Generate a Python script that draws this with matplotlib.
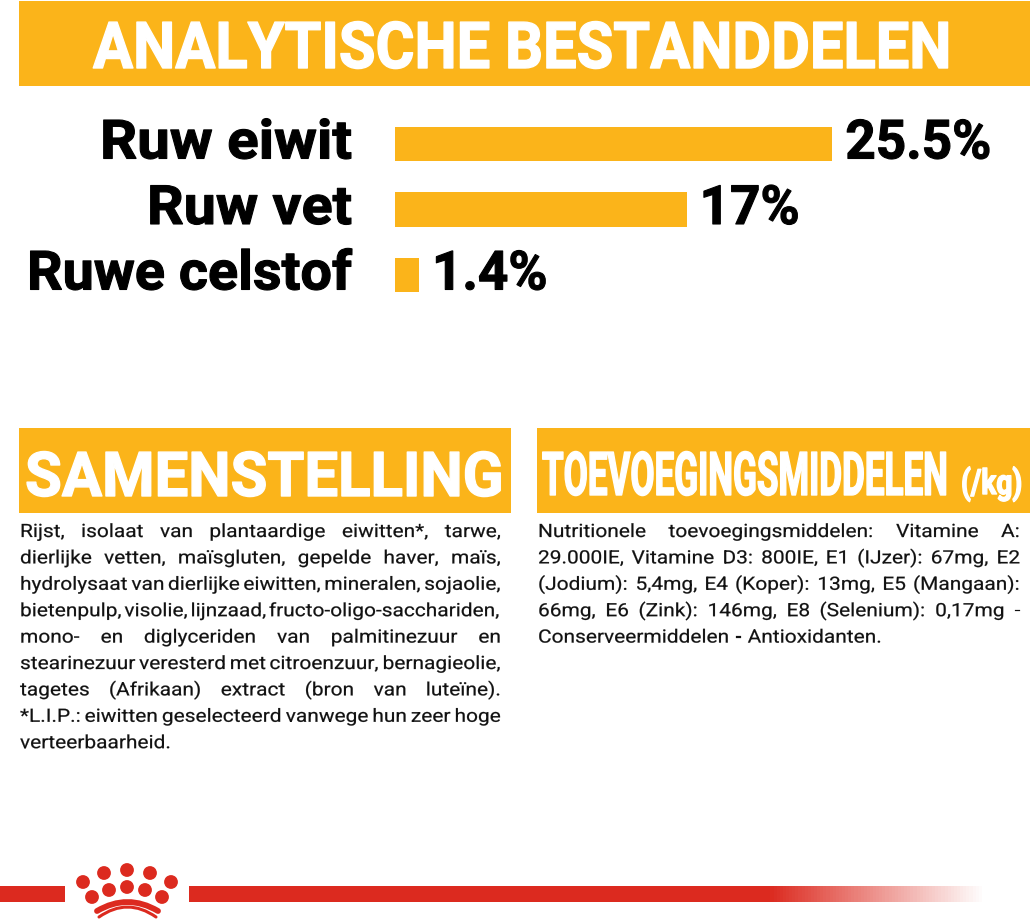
import matplotlib
matplotlib.use('Agg')
import matplotlib.pyplot as plt
from matplotlib.patches import Circle, PathPatch, Rectangle
from matplotlib.patheffects import AbstractPathEffect
from matplotlib.path import Path
from matplotlib.transforms import Affine2D
from matplotlib.colors import LinearSegmentedColormap
import numpy as np

YELLOW = '#fbb41a'
RED = '#dc2a1f'
W, H = 1030, 919

title = 'ANALYTISCHE BESTANDDELEN'
categories = ['Ruw eiwit', 'Ruw vet', 'Ruwe celstof']
values = [25.5, 17, 1.4]
value_labels = ['25.5%', '17%', '1.4%']

head_left = 'SAMENSTELLING'
head_right = 'TOEVOEGINGSMIDDELEN'
head_unit = '(/kg)'

left_lines = [
    'Rijst, isolaat van plantaardige eiwitten*, tarwe,',
    'dierlijke vetten, maïsgluten, gepelde haver, maïs,',
    'hydrolysaat van dierlijke eiwitten, mineralen, sojaolie,',
    'bietenpulp, visolie, lijnzaad, fructo-oligo-sacchariden,',
    'mono- en diglyceriden van palmitinezuur en',
    'stearinezuur veresterd met citroenzuur, bernagieolie,',
    'tagetes (Afrikaan) extract (bron van luteïne).',
    '*L.I.P.: eiwitten geselecteerd vanwege hun zeer hoge',
    'verteerbaarheid.',
]
right_lines = [
    'Nutritionele toevoegingsmiddelen: Vitamine A:',
    '29.000IE, Vitamine D3: 800IE, E1 (IJzer): 67mg, E2',
    '(Jodium): 5,4mg, E4 (Koper): 13mg, E5 (Mangaan):',
    '66mg, E6 (Zink): 146mg, E8 (Selenium): 0,17mg -',
    'Conserveermiddelen - Antioxidanten.',
]

# drawn widths of the category labels, px
LABEL_PX = [252, 205, 325]


class Stretch(AbstractPathEffect):
    # scale glyphs around their baseline start, optional outline for extra weight
    def __init__(self, sx=1.0, sy=1.0, stroke=0.0):
        super().__init__()
        self.sx = sx
        self.sy = sy
        self.stroke = stroke

    def draw_path(self, renderer, gc, tpath, affine, rgbFace=None):
        gc0 = renderer.new_gc()
        gc0.copy_properties(gc)
        gc0.set_linewidth(self.stroke)
        if self.stroke > 0:
            gc0.set_foreground(rgbFace)
            gc0.set_joinstyle('round')
        renderer.draw_path(gc0, tpath, Affine2D().scale(self.sx, self.sy) + affine, rgbFace)
        gc0.restore()


fig = plt.figure(figsize=(W / 100, H / 100), dpi=100, facecolor='white')
bg = fig.add_axes([0, 0, 1, 1])
bg.set_xlim(0, W)
bg.set_ylim(H, 0)
bg.axis('off')
renderer = fig.canvas.get_renderer()


def px_width(t):
    return t.get_window_extent(renderer).width


def fit_text(x0, x1, y, s, size, stroke=1.0, color='white'):
    # font size set so the width is x0..x1, then stretched up to the wanted height
    t = bg.text(x0, y, s, family='Roboto', weight='bold', color=color,
                fontsize=size, ha='left', va='baseline')
    k = (x1 - x0) / px_width(t)
    t.set_fontsize(size * k)
    t.set_path_effects([Stretch(1.0, 1 / k, stroke)])
    return t


def justified(x0, x1, y, line, size, sx, last=False):
    words = line.split(' ')
    items = [bg.text(x0, y, w, family='Roboto', fontsize=size,
                     color='#111111', ha='left', va='baseline') for w in words]
    widths = [px_width(t) * sx for t in items]
    gap = 6 if last or len(words) == 1 else (x1 - x0 - sum(widths)) / (len(words) - 1)
    x = x0
    for t, wd in zip(items, widths):
        t.set_x(x)
        t.set_path_effects([Stretch(sx, 1.0, 0.15)])
        x += wd + gap


# banners
bg.add_patch(Rectangle((19, 1), W - 19, 85, color=YELLOW, lw=0))
bg.add_patch(Rectangle((19, 428), 492, 85, color=YELLOW, lw=0))
bg.add_patch(Rectangle((537, 428), W - 537, 85, color=YELLOW, lw=0))
fit_text(93, 952, 68, title, 46.5)
fit_text(25, 503, 496, head_left, 44.5)
fit_text(542, 948, 495, head_right, 43.5)
fit_text(961, 1022, 494, head_unit, 25)

# bar chart, 17.15 px per percent, rows 65.5 px apart
bar_ax = fig.add_axes([395 / W, 1 - 320 / H, 600 / W, 220 / H])
bar_ax.set_xlim(0, 600 / 17.15)
bar_ax.set_ylim((320 - 144) / 65.5, (100 - 144) / 65.5)
bar_ax.axis('off')
ypos = np.arange(len(values))
bar_ax.barh(ypos, values, height=0.527, color=YELLOW)
for y, v, lab, cat, lab_px in zip(ypos, values, value_labels, categories, LABEL_PX):
    t = bar_ax.annotate(lab, (v, y), xytext=(13, 0), textcoords='offset pixels',
                        family='Roboto', weight='bold', fontsize=39, color='black',
                        ha='left', va='center')
    t.set_path_effects([Stretch(0.98, 1.0, 0.8)])
    t = bar_ax.annotate(cat, (0, y), xytext=(-43 - lab_px, 0), textcoords='offset pixels',
                        family='Roboto', weight='bold', fontsize=39, color='black',
                        ha='left', va='center')
    t.set_path_effects([Stretch(lab_px / px_width(t), 1.0, 0.8)])

# body text
for i, line in enumerate(left_lines):
    justified(20, 501, 537 + i * 26.4, line, 13.2, 1.14, last=i == len(left_lines) - 1)
for i, line in enumerate(right_lines):
    justified(538, 1020, 537 + i * 26.4, line, 13.2, 1.14, last=i == len(right_lines) - 1)

# red band, fading out on the right
bg.add_patch(Rectangle((0, 886), 65, 16, color=RED, lw=0))
fade = LinearSegmentedColormap.from_list('fade', [(0, RED), (0.73, RED), (1, 'white')])
bg.imshow(np.linspace(0, 1, 256)[None, :], cmap=fade, extent=(189, 985, 902, 886),
          aspect='auto', zorder=1)
bg.set_xlim(0, W)
bg.set_ylim(H, 0)

# crown logo
dots = [(83, 882), (104, 873), (127, 870), (150, 873), (171, 882),
        (92, 897), (109, 890), (127, 887), (145, 890), (162, 897)]
for c in dots:
    bg.add_patch(Circle(c, 6.9, color=RED, lw=0))
for (x0, y0, x1, cy, lw) in [(97, 911, 158, 893, 4.2), (99, 917, 156, 897, 2.2)]:
    arc = Path([(x0, y0), ((x0 + x1) / 2, cy), (x1, y0)],
               [Path.MOVETO, Path.CURVE3, Path.CURVE3])
    bg.add_patch(PathPatch(arc, fc='none', ec=RED, lw=lw, capstyle='round'))

fig.savefig('out.png', dpi=100)
